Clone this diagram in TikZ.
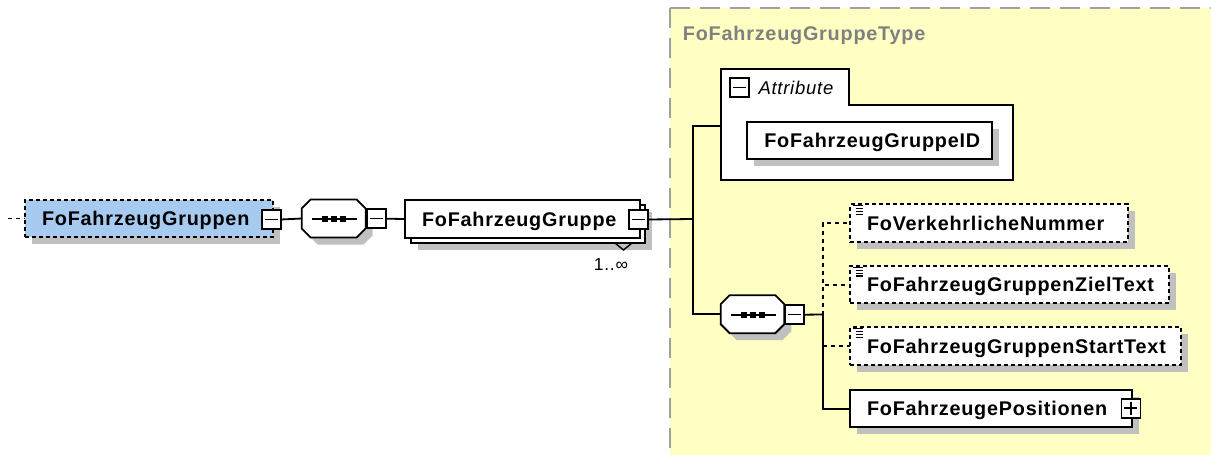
\documentclass[tikz,border=0pt]{standalone}
\usepackage{fontspec}
\setmainfont{Liberation Sans}
\newfontfamily\elfont[LetterSpace=4]{Liberation Sans}
\usetikzlibrary{calc,shadows}
\definecolor{selblue}{RGB}{166,202,240}
\definecolor{typeyellow}{RGB}{255,255,196}
\definecolor{shgray}{RGB}{192,192,192}
\definecolor{titlegray}{RGB}{128,128,128}
\definecolor{framegray}{RGB}{160,160,160}
\newcommand\elfontset{\elfont\bfseries\fontsize{19.8}{23}\selectfont}
\newcommand\seqshape[1]{%
  \fill[shgray, transform canvas={xshift=7pt,yshift=-7pt}]
    ($(#1.north west)+(9,0)$) -- ($(#1.north east)+(-9,0)$) -- ($(#1.north east)+(0,9)$) --
    ($(#1.south east)+(0,-9)$) -- ($(#1.south east)+(-9,0)$) -- ($(#1.south west)+(9,0)$) --
    ($(#1.south west)+(0,-9)$) -- ($(#1.north west)+(0,9)$) -- cycle;
  \draw[line width=1.8pt, fill=white]
    ($(#1.north west)+(9,0)$) -- ($(#1.north east)+(-9,0)$) -- ($(#1.north east)+(0,9)$) --
    ($(#1.south east)+(0,-9)$) -- ($(#1.south east)+(-9,0)$) -- ($(#1.south west)+(9,0)$) --
    ($(#1.south west)+(0,-9)$) -- ($(#1.north west)+(0,9)$) -- cycle;
  \draw[line width=1.8pt] ($(#1.west)+(10,0.8)$) -- ($(#1.east)+(-8.5,0.8)$);
  \foreach \dx in {-9,0,9} \fill ($(#1.center)+(\dx-3,-2.2)$) rectangle +(6,6);
}
\newcommand\simpleicon[1]{%
  \draw[line width=1.2pt] ($(#1.north west)+(3,1.5)$) -- +(10,0);
  \foreach \yy in {4.3,7.1,9.9} \draw[line width=1.2pt] ($(#1.north west)+(6,\yy)$) -- +(7,0);
}
\begin{document}
\begin{tikzpicture}[x=1pt,y=-1pt,
  box/.style={draw, line width=1.8pt, fill=white, anchor=north west, outer sep=0pt,
    inner xsep=17pt, inner ysep=0pt, align=left, font=\elfontset,
    text height=14.2pt, text depth=0pt, minimum height=37.5pt},
  shadowed/.style={general shadow={fill=shgray, shadow xshift=7pt, shadow yshift=-7pt}},
  optional/.style={dash pattern=on 4pt off 3pt},
  conn/.style={line width=1.8pt},
  optconn/.style={conn, dash pattern=on 4pt off 4pt},
  sqbtn/.style={draw, line width=1.6pt, fill=white, minimum size=19pt, inner sep=0pt, outer sep=0pt},
  minusbtn/.style={sqbtn, path picture={\draw[line width=1.5pt] ([xshift=3pt]path picture bounding box.west) -- ([xshift=-3pt]path picture bounding box.east);}},
  plusbtn/.style={sqbtn, path picture={\draw[line width=1.5pt] ([xshift=3pt]path picture bounding box.west) -- ([xshift=-3pt]path picture bounding box.east); \draw[line width=1.5pt] ([yshift=-3pt]path picture bounding box.north) -- ([yshift=3pt]path picture bounding box.south);}},
  seqanchor/.style={minimum width=64pt, minimum height=38pt, inner sep=0pt, outer sep=0pt}
]
\useasboundingbox (0,0) rectangle (1211,455);

% type area
\fill[typeyellow] (670,7.5) rectangle (1211,455);
\draw[framegray, line width=2pt, dash pattern=on 20pt off 10pt] (670,7.5) -- (1211,7.5);
\draw[framegray, line width=2pt, dash pattern=on 20pt off 10pt] (670,7.5) -- (670,455);
\node[font=\elfontset, text=titlegray, anchor=west, inner sep=0pt, text height=14.2pt, text depth=0pt] (title) at (682.7,33.5) {FoFahrzeugGruppeType};

% root element
\coordinate (lead) at (8,218.5);
\node[box, shadowed, optional, fill=selblue, text width=214pt, minimum height=37pt] (grp) at (25,200) {FoFahrzeugGruppen};
\draw[optconn] (lead) -- (grp.west);
\node[minusbtn] (m1) at (271.5,219.5) {};
\node[seqanchor] (seq1) at (333.7,218.5) {};
\seqshape{seq1}
\node[minusbtn] (m2) at (376.2,218.7) {};
\draw[conn] (m1.east) -- (seq1.west);

% repeated element
\node[box, shadowed, text width=200pt, minimum height=38pt] (elemback) at (411,205) {};
\node[box, text width=201pt, minimum height=38pt] (elem) at (405,200) {FoFahrzeugGruppe};
\draw[conn] (m2.east) -- (elem.west);
\node[minusbtn] (m3) at (638.5,219.5) {};
\draw[line width=1.4pt] (615,243) -- (623.5,250) -- (632,243);
\node[font=\elfont\fontsize{17.5}{20}\selectfont, inner sep=0pt] (card) at (611,264) {1..∞};

\coordinate (j1) at (693.3,219);
\draw[conn] (m3.east) -- (j1);

% attribute group
\node[minimum width=292pt, minimum height=111pt, anchor=north west, inner sep=0pt, outer sep=0pt] (attrgrp) at (721,69) {};
\draw[line width=1.8pt, fill=white] (attrgrp.north west) -- ($(attrgrp.north west)+(128,0)$) --
  ($(attrgrp.north west)+(128,36)$) -- ($(attrgrp.north east)+(0,36)$) --
  (attrgrp.south east) -- (attrgrp.south west) -- cycle;
\node[minusbtn] (m5) at (739.7,87.5) {};
\node[font=\elfont\itshape\fontsize{18.5}{22}\selectfont, anchor=west, inner sep=0pt, text height=13.2pt, text depth=0pt] (attrlabel) at (758.3,87.7) {Attribute};
\node[box, shadowed, text width=210.4pt, minimum height=37.6pt] (attrid) at (747.3,121.7) {FoFahrzeugGruppeID};

% sequence 2
\node[seqanchor, minimum width=63.6pt] (seq2) at (752.5,314.2) {};
\draw[conn] ($(attrgrp.west)+(0,1.5)$) -| (j1) |- (seq2.west);
\seqshape{seq2}
\node[minusbtn] (m4) at (794.7,314.7) {};
\coordinate (j2) at (822.7,314.5);
\draw[conn] (m4.east) -- (j2);

% children
\node[box, shadowed, optional, text width=243.7pt, minimum height=37.4pt] (c1) at (850,204.3) {FoVerkehrlicheNummer};
\simpleicon{c1}
\node[box, shadowed, optional, text width=285pt, minimum height=37.3pt] (c2) at (850,266) {FoFahrzeugGruppenZielText};
\simpleicon{c2}
\node[box, shadowed, optional, text width=297pt, minimum height=37.7pt] (c3) at (850,327.3) {FoFahrzeugGruppenStartText};
\simpleicon{c3}
\node[box, shadowed, text width=247.7pt, minimum height=37.3pt] (c4) at (850,390) {FoFahrzeugePositionen};
\node[plusbtn] (p1) at (1130.8,408.2) {};

\draw[optconn] (j2) |- (c1.west);
\draw[optconn] (j2) |- (c2.west);
\draw[conn] (j2) |- (c4.west);
\draw[optconn] (j2) |- (c3.west);
\end{tikzpicture}
\end{document}
